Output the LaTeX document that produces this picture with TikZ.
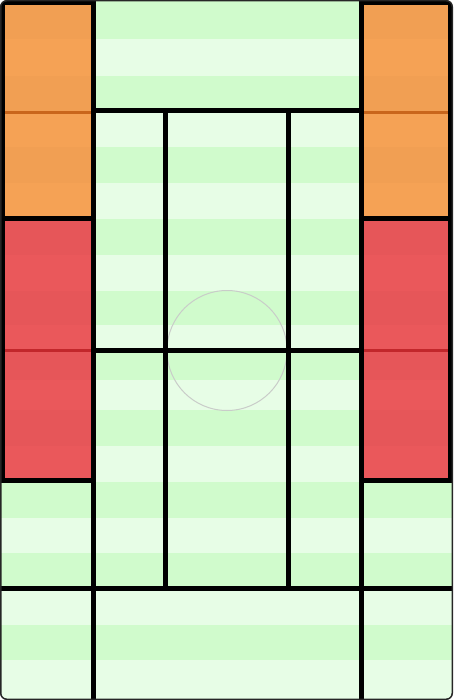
\documentclass[tikz,border=0pt]{standalone}
\definecolor{grlight}{HTML}{E7FDE6}
\definecolor{grdark}{HTML}{D0FBCC}
\definecolor{orangebox}{HTML}{F5A255}
\definecolor{orangeline}{HTML}{C9661C}
\definecolor{redbox}{HTML}{EA585B}
\definecolor{redline}{HTML}{C2272B}
\definecolor{ringgray}{HTML}{C9CCC9}
\begin{document}
\begin{tikzpicture}[x=1pt,y=-1pt,wall/.style={line width=5pt,black}]
\useasboundingbox (0,0) rectangle (453,700);
\fill[white] (0,0) rectangle (453,700);
\begin{scope}
\clip[rounded corners=6pt] (0.5,0.5) rectangle (452.5,699.5);
% pitch stripes
\fill[grlight] (0,0) rectangle (453,700);
\foreach \a/\b in {0/39,76/111,147/183,219/255,291/325,350/380,410/446,482/518,553/588,625/660}
  \fill[grdark] (0,\a) rectangle (453,\b);
% side blocks
\fill[orangebox] (0,0) rectangle (93.5,218.5);
\fill[orangebox] (361.5,0) rectangle (453,218.5);
\fill[redbox] (0,218.5) rectangle (93.5,480.5);
\fill[redbox] (361.5,218.5) rectangle (453,480.5);
\foreach \a/\b in {0/39,76/111,147/183,219/255,291/325,350/380,410/446}{
  \fill[black,opacity=.015] (0,\a) rectangle (93.5,\b);
  \fill[black,opacity=.015] (361.5,\a) rectangle (453,\b);
}
\draw[orangeline,line width=3.5pt] (2,112.5) -- (92,112.5);
\draw[orangeline,line width=3.5pt] (363,112.5) -- (451,112.5);
\draw[redline,line width=3.5pt] (2,350.5) -- (92,350.5);
\draw[redline,line width=3.5pt] (363,350.5) -- (451,350.5);
% centre ring
\draw[ringgray,line width=1pt] (227,350.5) circle (60);
% walls
\draw[wall] (2.5,2.5) rectangle (93.5,218.5);
\draw[wall] (2.5,218.5) rectangle (93.5,480.5);
\draw[wall] (361.5,2.5) rectangle (450.5,218.5);
\draw[wall] (361.5,218.5) rectangle (450.5,480.5);
\draw[wall] (93.5,0) -- (93.5,700);
\draw[wall] (361.5,0) -- (361.5,700);
\draw[wall] (93.5,111) -- (361.5,111);
\draw[wall] (93.5,350.5) -- (361.5,350.5);
\draw[wall] (165,111) -- (165,588.5);
\draw[wall] (288,111) -- (288,588.5);
\draw[wall] (0,588.5) -- (453,588.5);
\end{scope}
% outer edge
\draw[black!85,line width=1.5pt,rounded corners=6pt] (0.75,0.75) rectangle (452.25,699.25);
\end{tikzpicture}
\end{document}
